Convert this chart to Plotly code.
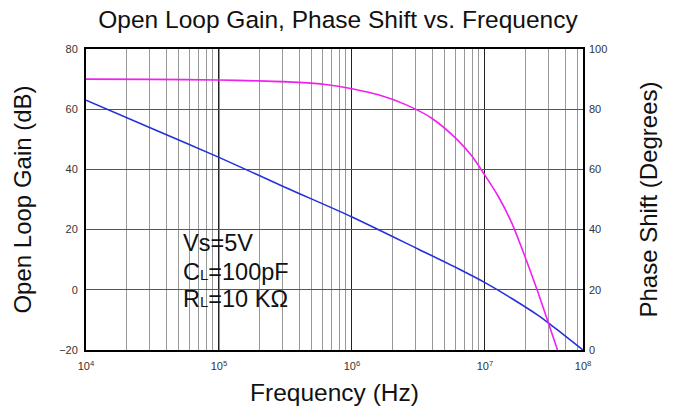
import plotly.graph_objects as go

# ---- data ----
gain_freq_hz = [1e4, 3.16e4, 1e5, 3.16e5, 1e6, 3.16e6, 6.31e6, 1e7,
                1.58e7, 2.51e7, 3.16e7, 3.98e7, 5.46e7]
gain_db = [63.0, 53.5, 44.0, 34.0, 24.2, 13.5, 7.0, 2.4,
           -2.8, -8.5, -11.8, -15.2, -20.0]

phase_freq_hz = [1e4, 3.16e4, 1e5, 2e5, 4e5, 6.31e5, 1e6, 1.58e6, 2.51e6,
                 3.98e6, 6.31e6, 7.94e6, 1e7, 1.26e7, 1.58e7, 2e7, 2.51e7,
                 3.16e7, 3.51e7]
phase_deg = [90.0, 89.9, 89.7, 89.4, 88.9, 88.2, 86.8, 84.8, 81.6,
             77.0, 69.5, 64.5, 58.0, 51.0, 42.5, 31.0, 19.0, 6.0, 0.0]

x_tick_vals = [1e4, 1e5, 1e6, 1e7, 5.46e7]
x_tick_text = ["10<sup>4</sup>", "10<sup>5</sup>", "10<sup>6</sup>",
               "10<sup>7</sup>", "10<sup>8</sup>"]
gain_ticks = [-20, 0, 20, 40, 60, 80]
phase_ticks = [0, 20, 40, 60, 80, 100]

FONT = "Arial, Liberation Sans, Helvetica, sans-serif"

minor_vals = [n * 10 ** k for k in range(4, 8) for n in range(2, 10)
              if n * 10 ** k < 5.46e7]

fig = go.Figure()
fig.add_trace(go.Scatter(x=phase_freq_hz, y=phase_deg, yaxis="y2",
                         mode="lines", line=dict(color="#f020f0", width=1.6,
                                                 shape="spline", smoothing=0.8),
                         hoverinfo="skip"))
fig.add_trace(go.Scatter(x=gain_freq_hz, y=gain_db, mode="lines",
                         line=dict(color="#2430dc", width=1.6, shape="spline",
                                   smoothing=0.8),
                         hoverinfo="skip"))

fig.update_layout(
    width=676, height=410,
    margin=dict(l=86, r=93, t=49, b=60),
    paper_bgcolor="white", plot_bgcolor="white",
    showlegend=False,
    font=dict(family=FONT, color="#111"),
    title=dict(text="Open Loop Gain, Phase Shift vs. Frequency",
               x=0.5, xanchor="center", y=0.952, yanchor="middle",
               font=dict(size=24.5, color="#111")),
    xaxis=dict(type="log", range=[4, 7.737], automargin=False,
               tickmode="array", tickvals=x_tick_vals, ticktext=x_tick_text,
               tickfont=dict(size=11, color="#333"), ticks="",
               ticklabelstandoff=5,
               showgrid=True, gridcolor="#222", gridwidth=1,
               minor=dict(tickmode="array", tickvals=minor_vals,
                          showgrid=True, gridcolor="#999999", gridwidth=1,
                          ticks=""),
               showline=True, linecolor="black", linewidth=2, mirror=True,
               title=dict(text="Frequency (Hz)", font=dict(size=24.5),
                          standoff=13),
               zeroline=False),
    yaxis=dict(range=[-20, 80], tickmode="array", tickvals=gain_ticks,
               automargin=False,
               tickfont=dict(size=11, color="#333"), ticks="",
               ticklabelstandoff=4,
               showgrid=True, gridcolor="#555", gridwidth=1,
               showline=True, linecolor="black", linewidth=2, mirror=True,
               zeroline=False,
               title=dict(text="Open Loop Gain (dB)", font=dict(size=24),
                          standoff=21)),
    yaxis2=dict(range=[0, 100], overlaying="y", side="right",
                automargin=False,
                tickmode="array", tickvals=phase_ticks,
                tickfont=dict(size=11, color="#333"), ticks="",
                ticklabelstandoff=5,
                showgrid=False, zeroline=False,
                title=dict(text="Phase Shift (Degrees)", font=dict(size=24),
                           standoff=33)),
    shapes=[
        dict(type="rect", xref="paper", yref="paper",
             x0=0.151, x1=0.511, y0=0.04, y1=0.442,
             fillcolor="white", line=dict(width=0), layer="between"),
        dict(type="line", xref="x", yref="paper", x0=1e5, x1=1e5,
             y0=0, y1=1, line=dict(color="#222", width=1), layer="between"),
    ],
)

small = '<span style="font-size:15px">L</span>'
box_lines = ["Vs=5V", "C" + small + "=100pF", "R" + small + "=10 KΩ"]
box_y = [0.355, 0.259, 0.169]
for txt, yy in zip(box_lines, box_y):
    fig.add_annotation(text=txt, xref="paper", yref="paper", x=0.192, y=yy,
                       xanchor="left", yanchor="middle", showarrow=False,
                       font=dict(size=23.5, color="#111", family=FONT))

fig.write_html("out.html", config={"displayModeBar": False},
               post_script="document.body.style.margin='0';")
